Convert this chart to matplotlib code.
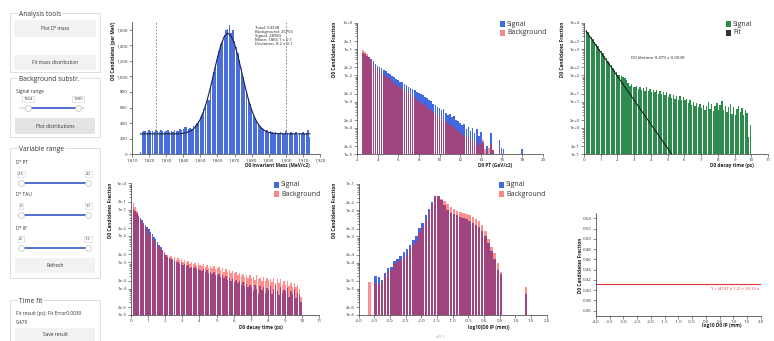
import matplotlib
matplotlib.use("Agg")
import matplotlib.pyplot as plt
from matplotlib.patches import Rectangle
from matplotlib.ticker import NullFormatter
import numpy as np

plt.rcParams['font.family'] = ['Open Sans', 'DejaVu Sans']

W, H = 774, 341

# ---- D0 invariant mass (1 MeV bins starting at 1815) ----
mass_start = 1815
mass_counts = [30, 280, 300, 305, 285, 310, 295, 300, 290, 315,
               300, 285, 310, 295, 280, 305, 315, 290, 300, 285,
               310, 295, 300, 320, 310, 330, 345, 355, 330, 340,
               320, 360, 380, 395, 430, 480, 510, 580, 640, 720,
               690, 880, 960, 1060, 1150, 1260, 1330, 1420, 1470, 1530,
               1590, 1610, 1660, 1560, 1590, 1450, 1380, 1300, 1210, 1110,
               990, 900, 800, 720, 650, 580, 520, 470, 420, 390,
               360, 340, 320, 300, 310, 290, 300, 280, 270, 285,
               275, 265, 290, 270, 260, 300, 275, 255, 285, 270,
               260, 280, 250, 275, 265, 285, 260, 270, 310, 220]
mass_fit_x = [1815, 1820, 1825, 1830, 1835, 1838, 1840, 1842, 1844, 1846,
              1848, 1850, 1852, 1854, 1856, 1858, 1860, 1862, 1864, 1866,
              1868, 1870, 1872, 1874, 1876, 1878, 1880, 1882, 1884, 1886,
              1888, 1890, 1892, 1894, 1896, 1900, 1905, 1910, 1914]
mass_fit_y = [262, 262, 262, 262, 262, 264, 270, 279, 296, 326,
              375, 450, 556, 696, 866, 1054, 1240, 1400, 1511, 1552,
              1518, 1414, 1258, 1073, 884, 712, 569, 459, 381, 330,
              298, 280, 271, 266, 264, 263, 262, 262, 262]
signal_range = [1824, 1900]
mass_info = ["Total: 54338", "Background: 25755", "Signal: 28583",
             "Mean: 1866.1 \u00b1 0.1", "Deviation: 8.2 \u00b1 0.1"]

# ---- D0 PT (log10 of fraction, 0.2 GeV bins starting at 2.5) ----
pt_start, pt_bin = 2.5, 0.2
pt_signal = [-1.16, -1.20, -1.26, -1.32, -1.39, -1.47, -1.58, -1.65, -1.68, -1.74,
             -1.79, -1.85, -1.92, -1.95, -2.02, -2.06, -2.14, -2.17, -2.24, -2.27,
             -2.33, -2.36, -2.43, -2.47, -2.52, -2.55, -2.63, -2.67, -2.72, -2.76,
             -2.84, -2.86, -2.95, -2.98, -3.10, -3.12, -3.20, -3.24, -3.30, -3.28,
             -3.42, -3.50, -3.46, -3.60, -3.55, -3.70, -3.74, -3.82, -3.90, -3.85,
             -4.05, -3.98, -4.10, -4.00, -4.20, -4.02, -4.30, -4.15, -4.55, None,
             -4.70, None, -4.20, -4.85, None, None, -4.45, -4.75, -4.80, None,
             None, None, None, None, None, None, None, -4.80]
pt_background = [-1.04, -1.10, -1.20, -1.30, -1.42, -1.55, -1.68, -1.78, -1.85, -1.90,
                 -1.97, -2.02, -2.10, -2.14, -2.22, -2.28, -2.36, -2.42, -2.46, -2.52,
                 -2.58, -2.64, -2.70, -2.74, -2.80, -2.86, -2.92, -2.98, -3.04, -3.10,
                 -3.14, -3.22, -3.27, -3.32, -3.38, -3.44, -3.50, -3.56, -3.62, -3.70,
                 -3.76, -3.80, -3.88, -3.92, -3.98, -4.05, -4.10, -4.15, -4.22, -4.30,
                 -4.35, -4.40, -4.45, -4.55, -4.62, -4.50, -4.70, -4.60, -4.45, -4.80,
                 None, -4.75, -4.60, -4.85, None, None, -4.75, None, None, None,
                 None, None, None, None, None, None, None, None]

# ---- D0 decay time (0.1 ps bins starting at 0) ----
tau_start, tau_bin = 0.0, 0.1
tau_signal = [None, -0.99, -1.06, -1.14, -1.23, -1.31, -1.40, -1.49, -1.58, -1.67,
              -1.75, -1.84, -1.93, -2.03, -2.12, -2.22, -2.33, -2.43, -2.54, -2.64,
              -2.72, -2.78, -2.83, -2.87, -2.93, -2.96, -3.00, -2.98, -3.06, -3.04,
              -3.10, -3.08, -3.15, -3.12, -3.20, -3.16, -3.22, -3.19, -3.26, -3.22,
              -3.29, -3.33, -3.27, -3.36, -3.31, -3.40, -3.35, -3.44, -3.38, -3.47,
              -3.48, -3.43, -3.55, -3.50, -3.60, -3.52, -3.66, -3.58, -3.70, -3.62,
              -3.73, -3.68, -3.80, -3.70, -3.86, -3.76, -3.90, -3.82, -3.95, -3.85,
              -3.92, -4.10, -3.88, -4.00, -4.20, -3.90, -4.05, -3.95, -4.15, -3.98,
              -4.05, -3.90, -4.20, -4.00, -3.85, -4.10, -4.25, -3.95, -4.15, -4.05,
              -4.10, -3.98, -4.30, -4.08, -4.20, -4.00, -4.35, -4.15, -4.25, -4.49]
tau_background = [None, -0.76, -0.90, -1.05, -1.20, -1.34, -1.45, -1.55, -1.65, -1.74,
                  -1.88, -1.97, -2.05, -2.14, -2.22, -2.35, -2.42, -2.48, -2.55, -2.62,
                  -2.72, -2.72, -2.80, -2.76, -2.84, -2.80, -2.90, -2.85, -2.93, -2.88,
                  -2.97, -2.92, -3.00, -2.95, -3.05, -2.98, -3.08, -3.02, -3.10, -3.04,
                  -3.10, -3.15, -3.08, -3.18, -3.10, -3.20, -3.13, -3.22, -3.15, -3.25,
                  -3.23, -3.18, -3.30, -3.22, -3.35, -3.27, -3.38, -3.30, -3.42, -3.34,
                  -3.42, -3.36, -3.48, -3.40, -3.52, -3.45, -3.56, -3.48, -3.60, -3.50,
                  -3.61, -3.55, -3.68, -3.50, -3.65, -3.58, -3.72, -3.55, -3.70, -3.60,
                  -3.68, -3.62, -3.75, -3.58, -3.80, -3.65, -3.78, -3.62, -3.85, -3.70,
                  -3.86, -3.72, -3.90, -3.78, -3.95, -3.80, -3.92, -3.85, -4.00, -4.30]
# background-subtracted signal counts (log10) for the lifetime fit
tau_counts = [None, 3.72, 3.63, 3.55, 3.46, 3.37, 3.28, 3.19, 3.10, 3.01,
              2.92, 2.83, 2.74, 2.65, 2.56, 2.47, 2.38, 2.29, 2.20, 2.12,
              2.03, 2.00, 1.96, 1.94, 1.88, 1.82, 1.72, 1.60, 1.66, 1.55,
              1.54, 1.60, 1.48, 1.56, 1.45, 1.52, 1.40, 1.55, 1.42, 1.50,
              1.38, 1.46, 1.35, 1.43, 1.30, 1.41, 1.28, 1.38, 1.25, 1.35,
              1.19, 1.30, 1.15, 1.26, 1.12, 1.22, 1.08, 1.20, 1.05, 1.16,
              1.06, 1.12, 0.95, 1.08, 0.88, 1.00, 0.82, 0.95, 0.78, 0.90,
              0.75, 0.88, 0.70, 0.85, 0.98, 0.72, 0.90, 0.66, 0.82, 0.95,
              0.68, 0.88, 1.02, 0.70, 0.85, 0.60, 0.80, 0.92, 0.55, 0.78,
              0.49, 0.72, 0.85, 0.60, 0.75, 0.50, 0.70, 0.58, -0.33, 0.11]
fit_t = [0.12, 5.25]
fit_counts = [4800, 0.1]
lifetime_text = "D0 lifetime 0.479 \u00b1 0.0039"

# ---- log10 D0 IP (0.1 bins starting at -3.7) ----
ip_start, ip_bin = -3.7, 0.1
ip_signal = [None, None, -4.51, -4.56, -4.66, -4.40, -4.22, -4.15, -3.95, -3.88,
             -3.75, -3.60, -3.50, -3.32, -3.15, -2.98, -2.68, -2.48, -2.20, -1.95,
             -1.68, -1.44, -1.44, -1.62, -1.82, -1.98, -2.10, -2.15, -2.20, -2.25,
             -2.30, -2.33, -2.42, -2.48, -2.55, -2.65, -2.80, -3.00, -3.25, -3.55,
             -3.85, -4.30, -4.45, None, None, None, None, None, None, None,
             -5.20]
ip_background = [-4.73, None, -4.79, -4.85, -4.75, -4.55, -4.35, -4.30, -4.05, -3.98,
                 -3.90, -3.80, -3.70, -3.50, -3.32, -3.18, -2.88, -2.66, -2.36, -2.08,
                 -1.75, -1.47, -1.45, -1.56, -1.66, -1.78, -1.88, -1.95, -2.02, -2.06,
                 -2.10, -2.14, -2.20, -2.26, -2.32, -2.42, -2.55, -2.80, -3.10, -3.40,
                 -3.65, -4.00, -4.35, None, None, None, None, None, None, None,
                 -4.92]
ip_fit_value = 0.411
ip_fit_text = "Y = (4107 \u00b1 1.2) \u00d7 10-10 x"

SIG = '#4169e1'
BKG = '#ff2020'
GRN = '#2e8b4e'
TICK_FS = 3.2
LAB_FS = 3.4

fig = plt.figure(figsize=(W / 100, H / 100), dpi=100)


def px_axes(x0, y0, x1, y1):
    return fig.add_axes([x0 / W, 1 - y1 / H, (x1 - x0) / W, (y1 - y0) / H])


def style(ax):
    for s in ['top', 'right']:
        ax.spines[s].set_visible(False)
    for s in ['left', 'bottom']:
        ax.spines[s].set_linewidth(0.5)
        ax.spines[s].set_color('#333333')
    ax.tick_params(which='both', direction='out', width=0.4, colors='#333333',
                   labelsize=TICK_FS, pad=1)
    ax.tick_params(which='major', length=2)
    ax.tick_params(which='minor', length=1.2)


def log_ticks(ax, lo, hi):
    major, labels = [], []
    for e in range(lo, hi + 1):
        major.append(10.0 ** e)
        labels.append(f"1e{e:+d}")
        if e < hi:
            major.append(2 * 10.0 ** e)
            labels.append(f"2e{e:+d}")
    minor = [m * 10.0 ** e for e in range(lo, hi) for m in range(3, 10)]
    ax.set_yscale('log')
    ax.set_yticks(major, labels)
    ax.set_yticks(minor, minor=True)
    ax.yaxis.set_minor_formatter(NullFormatter())
    ax.set_ylim(10.0 ** lo, 10.0 ** hi)


def log_bars(ax, start, step, logs, **kw):
    xs = [start + step * i for i, v in enumerate(logs) if v is not None]
    hs = [10 ** v for v in logs if v is not None]
    ax.bar(xs, hs, width=step * 0.82, align='edge', linewidth=0,
           antialiased=False, **kw)


# panel 1: mass
ax1 = px_axes(132, 21.7, 320, 154.3)
style(ax1)
mx = mass_start + np.arange(len(mass_counts))
ax1.bar(mx, mass_counts, width=0.8, color='#4a6fdc', linewidth=0, antialiased=False)
ax1.plot(mass_fit_x, mass_fit_y, color='#1c2540', lw=0.8)
for v in signal_range:
    ax1.axvline(v, color='#777777', lw=0.6, ls=(0, (2, 2)))
ax1.text(1882, 1640, "\n".join(mass_info), fontsize=3.1, va='top', ha='left',
         linespacing=0.95, color='#222222')
ax1.set_xlim(1810, 1920)
ax1.set_ylim(0, 1700)
xt = list(range(1810, 1921, 10))
ax1.set_xticks(xt, [f"{v:,}" for v in xt])
yt = list(range(0, 1601, 200))
ax1.set_yticks(yt, [f"{v:,}" for v in yt])

# panel 2: PT
ax2 = px_axes(357, 22.7, 543, 154.3)
style(ax2)
log_bars(ax2, pt_start, pt_bin, pt_signal, color=SIG)
log_bars(ax2, pt_start, pt_bin, pt_background, color=BKG, alpha=0.5)
log_ticks(ax2, -5, 0)
ax2.set_xlim(2, 20)
ax2.set_xticks(range(2, 21, 2))

# panel 3: decay time fit
ax3 = px_axes(584, 22.7, 768, 154.3)
style(ax3)
log_bars(ax3, tau_start, tau_bin, tau_counts, color=GRN)
ax3.plot(fit_t, fit_counts, color='#111111', lw=0.7)
ax3.text(4.4, 10 ** 2.67, lifetime_text, fontsize=3.2, ha='center', va='center',
         color='#222222')
log_ticks(ax3, -1, 4)
ax3.set_xlim(0, 11)
ax3.set_xticks(range(0, 12))

# panel 4: decay time signal vs background
ax4 = px_axes(131, 183.3, 319.3, 315)
style(ax4)
log_bars(ax4, tau_start, tau_bin, tau_signal, color=SIG)
log_bars(ax4, tau_start, tau_bin, tau_background, color=BKG, alpha=0.5)
log_ticks(ax4, -5, 0)
ax4.set_xlim(0, 11)
ax4.set_xticks(range(0, 12))

# panel 5: IP
ax5 = px_axes(358.7, 184, 546.7, 315)
style(ax5)
log_bars(ax5, ip_start, ip_bin, ip_signal, color=SIG)
log_bars(ax5, ip_start, ip_bin, ip_background, color=BKG, alpha=0.5)
log_ticks(ax5, -6, -1)
ax5.set_xlim(-4, 2)
ipt = np.arange(-4, 2.01, 0.5)
ax5.set_xticks(ipt, [f"{v:.1f}" for v in ipt])

# panel 6: fraction vs IP
ax6 = px_axes(596, 213.3, 760.7, 315.7)
style(ax6)
ax6.axhline(ip_fit_value, color='#e03535', lw=0.8)
ax6.text(1.95, ip_fit_value - 0.004, ip_fit_text, fontsize=3.0, color='#e03535',
         ha='right', va='top')
ax6.set_xlim(-4, 2)
ax6.set_ylim(0.35, 0.55)
ax6.set_xticks(ipt, [f"{v:.1f}" for v in ipt])
f6 = np.arange(0.36, 0.545, 0.02)
ax6.set_yticks(f6, [f"{v:.2f}" for v in f6])

# overlay in pixel coordinates: labels, legends and the side panel
ov = fig.add_axes([0, 0, 1, 1], zorder=10)
ov.patch.set_alpha(0)
ov.set_xlim(0, W)
ov.set_ylim(H, 0)
ov.axis('off')


def ylab(x, y, s, anchor='top'):
    if anchor == 'top':
        ov.text(x, y, s, rotation=90, rotation_mode='anchor', ha='right', va='center',
                fontsize=LAB_FS, fontweight='bold', color='#222222')
    else:
        ov.text(x, y, s, rotation=90, ha='center', va='center',
                fontsize=LAB_FS, fontweight='bold', color='#222222')


def xlab(x, y, s):
    ov.text(x, y, s, ha='right', va='center', fontsize=LAB_FS, fontweight='bold',
            color='#222222')


ylab(113, 22, "D0 Candidates (per MeV)")
xlab(310, 165, "D0 Invariant Mass (MeV/c2)")
ylab(334, 22, "D0 Candidates Fraction")
xlab(512, 166, "D0 PT (GeV/c2)")
ylab(562, 22, "D0 Candidates Fraction")
xlab(754, 166, "D0 decay time (ps)")
ylab(111, 183, "D0 Candidates Fraction")
xlab(283, 328, "D0 decay time (ps)")
ylab(335, 183, "D0 Candidates Fraction")
xlab(510, 327, "log10(D0 IP (mm))")
ylab(581, 265, "D0 Candidates Fraction", anchor='center')
xlab(742, 325, "log10 D0 IP (mm)")


def legend(x, y, items):
    for i, (label, col) in enumerate(items):
        yy = y + 9 * i
        ov.add_patch(Rectangle((x, yy - 2.7), 5.4, 5.4, color=col, lw=0))
        ov.text(x + 7, yy, label, fontsize=5, va='center', ha='left', color='#333333')


sb = [("Signal", SIG), ("Background", '#f58a8a')]
legend(500, 24, sb)
legend(726, 24, [("Signal", GRN), ("Fit", '#333333')])
legend(274, 185, sb)
legend(499, 185, sb)

ov.text(440, 337, "v0.1", fontsize=3.2, color='#999999', ha='center', va='center')

# side panel
SB_FS = 3.5


def box(x0, y0, x1, y1, title):
    ov.add_patch(Rectangle((x0, y0), x1 - x0, y1 - y0, fill=False,
                           edgecolor='#d9d9d9', lw=0.6))
    ov.text(x0 + 9, y0 + 1.5, title, fontsize=4.8, color='#333333', va='center',
            ha='left', bbox=dict(fc='white', ec='none', pad=0.6))


def button(x0, y0, x1, y1, label, fc='#f2f2f2'):
    ov.add_patch(Rectangle((x0, y0), x1 - x0, y1 - y0, color=fc, lw=0))
    ov.text((x0 + x1) / 2, (y0 + y1) / 2, label, fontsize=SB_FS, color='#333333',
            ha='center', va='center')


def slider(y, lo_txt, hi_txt, h_lo, h_hi, track=(19, 89)):
    ov.text(h_lo, y - 9, lo_txt, fontsize=3.0, ha='center', va='center', color='#333333',
            bbox=dict(fc='white', ec='#d0d0d0', lw=0.4, pad=0.8))
    ov.text(h_hi, y - 9, hi_txt, fontsize=3.0, ha='center', va='center', color='#333333',
            bbox=dict(fc='white', ec='#d0d0d0', lw=0.4, pad=0.8))
    ov.plot(track, [y, y], color='#dddddd', lw=1.2, solid_capstyle='round')
    ov.plot([h_lo, h_hi], [y, y], color='#3c5bd0', lw=1.2)
    ov.plot([h_lo, h_hi], [y, y], ls='none', marker='o', ms=4.2, mfc='white',
            mec='#bbbbbb', mew=0.5)


box(10, 13, 100, 72, "Analysis tools")
button(14, 20, 96, 37, "Plot D\u2070 mass")
button(14, 55, 96, 70, "Fit mass distribution")

box(10, 78, 100, 137, "Background substr.")
ov.text(16, 91, "Signal range", fontsize=SB_FS, color='#333333', va='center')
slider(108, "1824", "1900", 28, 78, track=(20, 84))
button(15, 118, 95, 134, "Plot distributions", fc='#e4e4e4')

box(10, 148, 100, 278, "Variable range")
ov.text(16, 163, "D\u2070 PT", fontsize=SB_FS, color='#333333', va='center')
slider(183, "2.5", "20", 21, 88)
ov.text(16, 195, "D\u2070 TAU", fontsize=SB_FS, color='#333333', va='center')
slider(215, "0", "10", 21, 88)
ov.text(16, 228, "D\u2070 IP", fontsize=SB_FS, color='#333333', va='center')
slider(248, "-4", "1.5", 21, 88)
button(15, 258, 95, 273, "Refresh")

box(10, 300, 100, 350, "Time fit")
ov.text(16, 313, "Fit result (ps): Fit Error0.0039", fontsize=SB_FS, color='#333333',
        va='center')
ov.text(16, 322, "0.479", fontsize=SB_FS, color='#333333', va='center')
button(15, 328, 95, 341, "Save result")

fig.savefig("out.png", dpi=100)
